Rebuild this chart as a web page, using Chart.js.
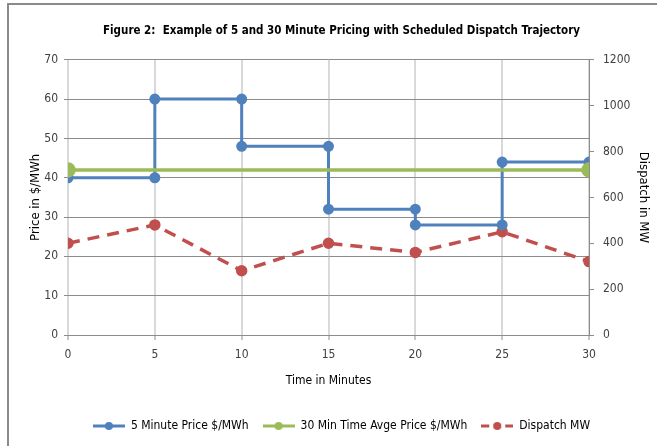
<!DOCTYPE html>
<html>
<head>
<meta charset="utf-8">
<script src="https://cdn.jsdelivr.net/npm/chart.js@4"></script>
<style>
  html, body { margin: 0; padding: 0; background: #fff; }
  #wrap { width: 657px; height: 446px; }
</style>
</head>
<body>
<div id="wrap"><canvas id="myChart" width="657" height="446"></canvas></div>
<script>
// 5 minute price, drawn as steps (two points at each change)
const priceMinutes = [0, 5, 5, 10, 10, 15, 15, 20, 20, 25, 25, 30];
const priceValues = [40, 40, 60, 60, 48, 48, 32, 32, 28, 28, 44, 44];

// 30 minute time average price
const avgMinutes = [0, 30];
const avgValues = [42, 42];

// scheduled dispatch
const dispatchMinutes = [0, 5, 10, 15, 20, 25, 30];
const dispatchMW = [400, 480, 280, 400, 360, 450, 320];

const FONT = "'DejaVu Sans Condensed', 'DejaVu Sans', sans-serif";
const BLUE = "#4F81BD";
const GREEN = "#9BBB59";
const RED = "#C0504D";
const GRID = "#8C8C8C";
const TEXT = "#404040";

let toPoints = (xs, ys) => xs.map((x, i) => ({ x: x, y: ys[i] }));

// little line+marker pictures for the legend, like Excel does
let legendIcon = (color, dashed) => {
  let c = document.createElement("canvas");
  c.width = 32;
  c.height = 10;
  let g = c.getContext("2d");
  g.strokeStyle = color;
  g.lineWidth = 3;
  if (dashed) g.setLineDash([8, 4]);
  g.beginPath();
  g.moveTo(0, 5);
  g.lineTo(32, 5);
  g.stroke();
  g.fillStyle = color;
  g.beginPath();
  g.arc(16, 5, 4, 0, Math.PI * 2);
  g.fill();
  return c;
};

const icons = [legendIcon(BLUE, false), legendIcon(GREEN, false), legendIcon(RED, true)];

const frame = {
  id: "frame",
  beforeDraw(chart) {
    let g = chart.ctx;
    g.save();
    g.strokeStyle = "#8a8a8a";
    g.lineWidth = 2;
    g.beginPath();
    g.moveTo(8, 446);
    g.lineTo(8, 4);
    g.lineTo(657, 4);
    g.stroke();
    g.restore();
  },
};

const ctx = document.getElementById("myChart").getContext("2d");

const chart = new Chart(ctx, {
  type: "line",
  data: {
    datasets: [
      {
        label: "5 Minute Price $/MWh",
        data: toPoints(priceMinutes, priceValues),
        borderColor: BLUE,
        backgroundColor: BLUE,
        borderWidth: 3,
        pointRadius: 4,
        pointHoverRadius: 4,
        yAxisID: "y",
        order: 2,
      },
      {
        label: "30 Min Time Avge Price $/MWh",
        data: toPoints(avgMinutes, avgValues),
        borderColor: GREEN,
        backgroundColor: GREEN,
        borderWidth: 3.5,
        pointRadius: 6,
        pointHoverRadius: 6,
        yAxisID: "y",
        order: 1,
      },
      {
        label: "Dispatch MW",
        data: toPoints(dispatchMinutes, dispatchMW),
        borderColor: RED,
        backgroundColor: RED,
        borderWidth: 3.5,
        borderDash: [12, 8],
        pointRadius: 4,
        pointHoverRadius: 4,
        yAxisID: "y2",
        order: 3,
      },
    ],
  },
  options: {
    responsive: false,
    animation: false,
    layout: { padding: { left: 28, right: 2, top: 0, bottom: 4 } },
    plugins: {
      title: {
        display: true,
        text: "Figure 2:  Example of 5 and 30 Minute Pricing with Scheduled Dispatch Trajectory",
        color: "#000",
        font: { family: FONT, size: 11.5, weight: "bold" },
        padding: { top: 24, bottom: 22 },
      },
      legend: {
        position: "bottom",
        labels: {
          color: "#000",
          font: { family: FONT, size: 12 },
          usePointStyle: true,
          pointStyleWidth: 32,
          padding: 14,
          generateLabels: (chart) => {
            let items = Chart.defaults.plugins.legend.labels.generateLabels(chart);
            items.sort((a, b) => a.datasetIndex - b.datasetIndex);
            items.forEach((it) => { it.pointStyle = icons[it.datasetIndex]; });
            return items;
          },
        },
      },
      tooltip: { enabled: false },
    },
    scales: {
      x: {
        type: "linear",
        min: 0,
        max: 30,
        ticks: { stepSize: 5, color: TEXT, font: { family: FONT, size: 12 }, padding: 8 },
        grid: { color: "#D9D9D9", lineWidth: 2, tickColor: GRID, tickLength: 5, tickWidth: 1 },
        border: { color: GRID, width: 1 },
        title: {
          display: true,
          text: "Time in Minutes",
          color: "#000",
          font: { family: FONT, size: 12 },
          padding: { top: 8, bottom: 18 },
        },
        afterFit: (s) => { s.height = 71; },
      },
      y: {
        position: "left",
        min: 0,
        max: 70,
        ticks: { stepSize: 10, color: TEXT, font: { family: FONT, size: 12 }, padding: 6 },
        grid: { color: GRID, lineWidth: 1, tickLength: 4 },
        border: { display: false },
        title: {
          display: true,
          text: "Price in $/MWh",
          color: "#000",
          font: { family: FONT, size: 13 },
          padding: { top: 0, bottom: 4 },
        },
        afterFit: (s) => { s.width = 40; },
      },
      y2: {
        position: "right",
        min: 0,
        max: 1200,
        ticks: {
          stepSize: 200,
          color: TEXT,
          font: { family: FONT, size: 12 },
          padding: 9,
          callback: (v) => String(v),
        },
        grid: { drawOnChartArea: false, color: GRID, tickLength: 5 },
        border: { color: GRID, width: 1 },
        title: {
          display: true,
          text: "Dispatch in MW",
          color: "#000",
          font: { family: FONT, size: 13 },
          padding: { top: 4, bottom: 0 },
        },
        afterFit: (s) => { s.width = 66; },
      },
    },
  },
  plugins: [frame],
});
</script>
</body>
</html>
